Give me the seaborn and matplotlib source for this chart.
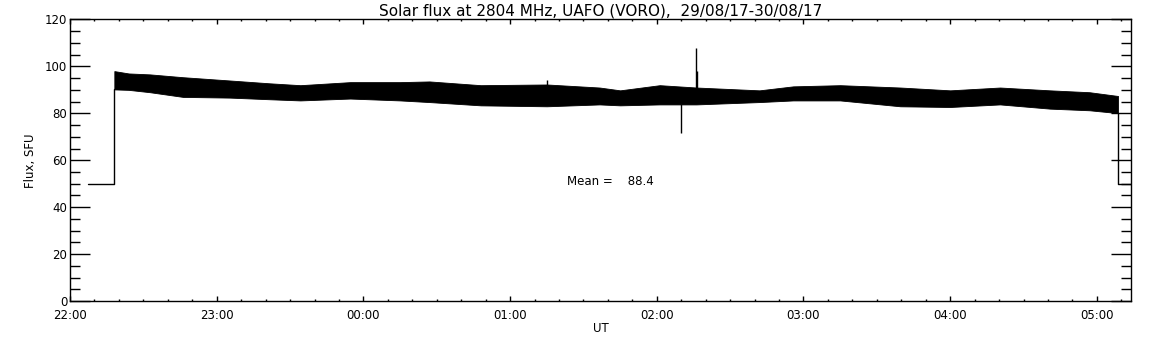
"""
Solar flux at 2804 MHz (UAFO, VORO) for the night 29/08/17-30/08/17.
Dense radiometer trace shown as a black band between the envelopes read off the record.
"""

import numpy as np
import pandas as pd
import matplotlib
matplotlib.use("Agg")
import matplotlib.pyplot as plt
from matplotlib.ticker import FuncFormatter, MultipleLocator
import seaborn as sns

# --- data (hours after 22:00 UT) ---
base_level = 50.0
lead_in_hours = [0.123, 0.302]      # flat at base level before the receiver comes on
lead_out_hours = [7.144, 7.233]     # flat at base level after it goes off

env_hours = [0.302, 0.40, 0.545, 0.77, 1.09, 1.36, 1.57, 1.91, 2.25, 2.45,
             2.80, 3.25, 3.61, 3.75, 4.02, 4.27, 4.70, 4.93, 5.25, 5.66,
             6.00, 6.34, 6.68, 6.95, 7.144]
env_upper = [98.0, 97.0, 96.6, 95.4, 94.0, 92.8, 92.0, 93.3, 93.3, 93.6,
             92.0, 92.3, 91.0, 89.8, 92.0, 91.0, 89.8, 91.5, 92.0, 91.0,
             89.8, 91.0, 89.8, 89.0, 87.4]
env_lower = [90.2, 90.0, 89.0, 87.0, 86.7, 86.0, 85.5, 86.3, 85.5, 84.8,
             83.4, 83.0, 83.8, 83.4, 83.8, 83.8, 84.8, 85.5, 85.5, 83.0,
             82.7, 83.8, 82.0, 81.3, 80.1]

spike_hours = [3.254, 4.162, 4.264, 4.271]
spike_low = [90.0, 71.8, 90.0, 90.0]
spike_high = [94.0, 84.0, 107.7, 98.0]

mean_flux = 88.4
title = "Solar flux at 2804 MHz, UAFO (VORO),  29/08/17-30/08/17"
start_hour = 22

# --- style ---
sns.set_style("ticks")
plt.rcParams["font.family"] = ["DejaVu Sans"]
plt.rcParams["font.size"] = 8.5
plt.rcParams["axes.linewidth"] = 1.0
plt.rcParams["axes.edgecolor"] = "black"
for key in ["text.color", "axes.labelcolor", "xtick.color", "ytick.color",
            "xtick.labelcolor", "ytick.labelcolor"]:
    plt.rcParams[key] = "black"

fig = plt.figure(figsize=(11.52, 3.45), dpi=100)
ax = fig.add_axes([0.0608, 0.1275, 0.921, 0.816])

# lead-in / lead-out steps to the base level
steps = pd.DataFrame({
    "t": [lead_in_hours[0], lead_in_hours[1], lead_in_hours[1],
          lead_out_hours[0], lead_out_hours[0], lead_out_hours[1]],
    "flux": [base_level, base_level, env_lower[0],
             env_lower[-1], base_level, base_level],
    "seg": ["in", "in", "in", "out", "out", "out"],
})
sns.lineplot(data=steps, x="t", y="flux", units="seg", estimator=None,
             sort=False, color="black", linewidth=1.0, ax=ax, legend=False)

# the noisy trace itself
ax.fill_between(env_hours, env_lower, env_upper, color="black", linewidth=0.6,
                edgecolor="black")
ax.vlines(spike_hours, spike_low, spike_high, color="black", linewidth=1.0)

ax.text(3.39, 51, f"Mean =    {mean_flux}", ha="left", va="center", fontsize=8.5)

# axes
ax.set_xlim(0, 7.233)
ax.set_ylim(0, 120)
ax.xaxis.set_major_locator(MultipleLocator(1))
ax.xaxis.set_minor_locator(MultipleLocator(1 / 6))
ax.yaxis.set_major_locator(MultipleLocator(20))
ax.yaxis.set_minor_locator(MultipleLocator(5))
ax.xaxis.set_major_formatter(
    FuncFormatter(lambda v, p: f"{int(round(start_hour + v)) % 24:02d}:00"))

ax.tick_params(axis="x", which="major", direction="in", length=3.4, width=1,
               top=True, bottom=True, pad=6)
ax.tick_params(axis="x", which="minor", direction="in", length=1.6, width=1,
               top=True, bottom=True)
ax.tick_params(axis="y", which="major", direction="in", length=14.4, width=1,
               left=True, right=True, pad=2)
ax.tick_params(axis="y", which="minor", direction="in", length=7.2, width=1,
               left=True, right=True)

ax.set_xlabel("UT", fontsize=8.5, labelpad=0)
ax.set_ylabel("Flux, SFU", fontsize=8.5, labelpad=6)
ax.set_title(title, fontsize=11, pad=3)

for side in ["top", "right", "left", "bottom"]:
    ax.spines[side].set_visible(True)

fig.savefig("out.png", dpi=100, facecolor="white")
